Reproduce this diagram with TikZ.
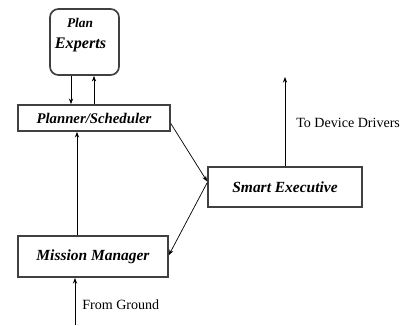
\documentclass[tikz,border=0pt]{standalone}
\usepackage{fontspec}
\setmainfont{Liberation Serif}
\usetikzlibrary{arrows.meta}

\tikzset{
  blockbox/.style={draw=black!75, line width=1.2pt, inner sep=0pt,
    font=\bfseries\itshape\fontsize{11}{13}\selectfont},
  link/.style={-{Stealth[length=4pt,width=3pt]}, line width=0.5pt},
  lbl/.style={font=\fontsize{10}{12}\selectfont, anchor=west, inner sep=0pt}
}

\begin{document}
\begin{tikzpicture}[x=0.025cm,y=-0.025cm]
  \useasboundingbox (0,0) rectangle (404,325);

  % boxes
  \node[blockbox, rounded corners=6pt, minimum width=1.725cm, minimum height=1.65cm] (plan) at (84.5,42) {};
  \node[font=\bfseries\itshape\fontsize{9.5}{11}\selectfont] (plantop) at (80,23) {Plan};
  \node[font=\bfseries\itshape\fontsize{11.5}{13}\selectfont] (planbot) at (80.5,45) {Experts};
  \node[blockbox, font=\bfseries\itshape\fontsize{10.5}{12}\selectfont,
    minimum width=3.8cm, minimum height=0.65cm] (planner) at (94,118) {Planner/Scheduler\hspace{0.45cm}};
  \node[blockbox, minimum width=3.75cm, minimum height=1.03cm] (mission) at (93,256.5) {Mission Manager\hspace{0.2cm}};
  \node[blockbox, minimum width=3.85cm, minimum height=1cm] (smart) at (285,187) {Smart Executive};

  % helper points
  \coordinate (xdown) at (71,0);
  \coordinate (xup) at (94,0);
  \coordinate (xmid) at (77,0);
  \coordinate (ground) at (75,325);
  \coordinate (drivers) at (285,77);

  % connectors
  \draw[link] (plan.south -| xdown) -- (planner.north -| xdown);
  \draw[link] (planner.north -| xup) -- (plan.south -| xup);
  \draw[link] (mission.north -| xmid) -- (planner.south -| xmid);
  \draw[link] ([yshift=-4pt]planner.east) -- ([yshift=4pt]smart.west);
  \draw[link] ([yshift=3pt]smart.west) -- ([yshift=1pt]mission.east);
  \draw[link] (ground) -- (mission.south -| ground);
  \draw[link] (smart.north) -- (drivers);

  % labels
  \node[lbl] (fromground) at (82,305) {From Ground};
  \node[lbl] (todrivers) at (296,123) {To Device Drivers};
\end{tikzpicture}
\end{document}
